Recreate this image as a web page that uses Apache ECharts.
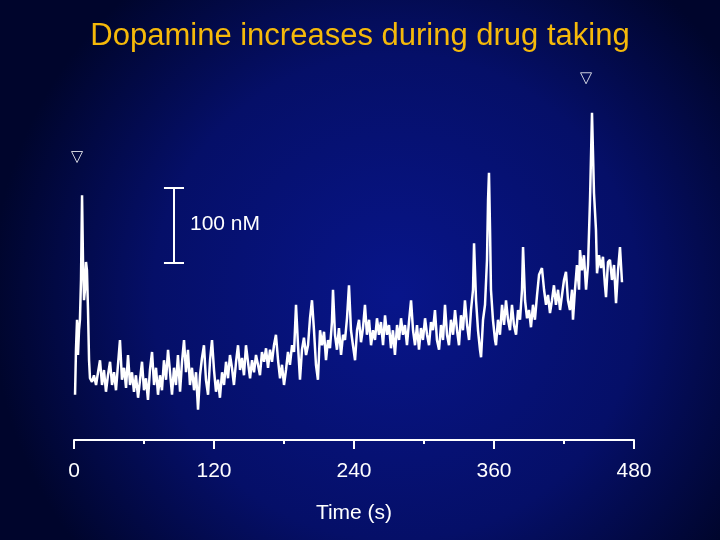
<!DOCTYPE html>
<html>
<head>
<meta charset="utf-8">
<script src="https://cdn.jsdelivr.net/npm/echarts@6/dist/echarts.min.js"></script>
<style>html,body{margin:0;padding:0;background:#000a40}#main{width:720px;height:540px}</style>
</head>
<body>
<div id="main"></div>
<script>
// time (s) and dopamine change (nM)
var times = [0.9,1.7,2.6,3.4,4.3,5.1,6,6.9,7.7,8.6,9.4,10.3,11.1,12,12.9,13.7,15.4,17.1,18.9,20.6,22.3,24,25.7,27.4,29.1,30.9,32.6,34.3,36,37.7,39.4,41.1,42.9,44.6,46.3,48,49.7,51.4,53.1,54.9,56.6,58.3,60,61.7,63.4,65.1,66.9,68.6,70.3,72,73.7,75.4,77.1,78.9,80.6,82.3,84,85.7,87.4,89.1,90.9,92.6,94.3,96,97.7,99.4,101.1,102.9,104.6,106.3,108,109.7,111.4,113.1,114.9,116.6,118.3,120,121.7,123.4,125.1,126.9,128.6,130.3,132,133.7,135.4,137.1,138.9,140.6,142.3,144,145.7,147.4,149.1,150.9,152.6,154.3,156,157.7,159.4,161.1,162.9,164.6,166.3,168,169.7,171.4,173.1,174.9,176.6,178.3,180,181.7,183.4,185.1,186.9,188.6,190.3,192,193.7,195.4,197.1,198.9,200.6,202.3,204,205.7,207.4,209.1,210.9,212.6,214.3,216,217.7,219.4,221.1,222,223.7,225.4,227.1,228.9,230.6,232.3,234,235.7,237.4,239.1,240.9,242.6,244.3,246,247.7,249.4,251.1,252.9,254.6,256.3,258,259.7,261.4,263.1,264.9,266.6,268.3,270,271.7,273.4,275.1,276.9,278.6,280.3,282,283.7,285.4,287.1,288.9,290.6,292.3,294,295.7,297.4,299.1,300.9,302.6,304.3,306,307.7,309.4,311.1,312.9,314.6,316.3,318,319.7,321.4,323.1,324.9,326.6,328.3,330,331.7,333.4,335.1,336.9,338.6,340.3,342,342.9,344.6,346.3,348,348.9,350.6,352.3,354,354.9,355.7,356.6,357.4,359.1,360.9,361.7,363.4,365.1,366.9,368.6,370.3,372,373.7,375.4,377.1,378.9,380.6,382.3,384,384.9,386.6,388.3,390,391.7,393.4,395.1,396.9,398.6,401.1,402.9,404.6,406.3,408,409.7,411.4,413.1,414.9,416.6,418.3,420,421.7,423.4,425.1,426.9,427.7,429.4,431.1,432.9,433.7,435.4,437.1,438.9,440.6,442.3,444,445.7,447.4,448.3,450,451.7,453.4,455.1,456,457.7,459.4,461.1,462.9,464.6,466.3,468,469.7];
var dopamine = [7,67,107,60,93,107,160,273,187,133,147,184,173,120,53,29,24,33,20,37,53,20,40,11,33,51,20,37,13,47,80,27,43,16,60,20,37,11,33,3,27,51,13,29,0,40,64,20,43,7,33,13,53,27,67,37,7,43,20,60,11,51,80,37,67,20,43,13,37,-13,33,56,73,27,7,53,80,40,11,27,3,37,20,51,29,60,43,20,51,73,40,56,33,73,51,29,53,37,60,47,33,64,51,69,43,67,51,73,87,53,29,47,20,40,64,47,73,64,127,73,27,67,83,60,73,109,133,93,47,27,93,73,91,53,80,69,104,147,87,67,96,60,87,80,109,153,93,73,53,93,107,77,96,127,87,107,73,93,80,109,87,104,73,113,87,100,69,93,60,100,80,109,87,100,73,104,133,93,73,100,67,96,80,109,87,73,104,93,120,80,67,100,80,127,87,73,107,87,120,93,73,113,93,133,100,80,120,147,209,133,93,67,57,107,127,187,267,303,227,147,107,80,73,107,87,127,100,133,107,93,127,100,87,120,107,147,204,133,109,120,97,127,107,140,167,176,147,127,140,116,133,153,127,147,120,140,160,171,133,120,147,107,147,180,147,200,173,193,147,180,267,383,276,227,169,193,176,191,153,137,184,187,160,180,129,173,204,157];
var xTicks = [0, 120, 240, 360, 480];
var markers = [[2.6, 324], [438.9, 429]];
var scaleBar = {t: 85.7, low: 183, high: 283};

var trace = times.map(function (t, i) { return [t, dopamine[i]]; });

var myChart = echarts.init(document.getElementById('main'));

var option = {
    backgroundColor: {
        type: 'radial', x: 0.55, y: 0.55, r: 0.75,
        colorStops: [{offset: 0, color: '#08158a'}, {offset: 0.6, color: '#050f68'}, {offset: 1, color: '#00052c'}]
    },
    animation: false,
    title: {
        text: 'Dopamine increases during drug taking',
        left: 'center', top: 16,
        textStyle: {color: '#f5b90a', fontSize: 31, fontWeight: 'normal', fontFamily: 'Liberation Sans'}
    },
    grid: {left: 74, right: 86, top: 40, bottom: 100},
    xAxis: {
        type: 'value', min: 0, max: 480, interval: 120,
        name: 'Time (s)', nameLocation: 'middle', nameGap: 63,
        nameTextStyle: {color: '#fff', fontSize: 21, fontFamily: 'Liberation Sans'},
        axisLine: {onZero: false, lineStyle: {color: '#fff', width: 2}},
        axisTick: {length: 9, lineStyle: {color: '#fff', width: 2}},
        minorTick: {show: true, splitNumber: 2, length: 4, lineStyle: {color: '#fff', width: 2}},
        axisLabel: {color: '#fff', fontSize: 21, margin: 21, fontFamily: 'Liberation Sans',
            formatter: function (v) { return xTicks.indexOf(v) >= 0 ? String(v) : ''; }},
        splitLine: {show: false}
    },
    yAxis: {type: 'value', min: -53.33, max: 480, show: false},
    series: [
        {
            type: 'line', data: trace, showSymbol: false,
            lineStyle: {color: '#fff', width: 2.5},
            markLine: {
                silent: true, symbol: 'none', label: {show: false},
                lineStyle: {color: '#fff', width: 2, type: 'solid'},
                data: [
                    [{coord: [scaleBar.t, scaleBar.low]}, {coord: [scaleBar.t, scaleBar.high]}],
                    [{coord: [scaleBar.t - 8.6, scaleBar.low]}, {coord: [scaleBar.t + 8.6, scaleBar.low]}],
                    [{coord: [scaleBar.t - 8.6, scaleBar.high]}, {coord: [scaleBar.t + 8.6, scaleBar.high]}]
                ]
            }
        },
        {
            type: 'scatter', data: markers, symbol: 'triangle', symbolRotate: 180, symbolSize: 11,
            itemStyle: {color: 'rgba(0,0,0,0)', borderColor: '#fff', borderWidth: 1}
        }
    ],
    graphic: [{
        type: 'text', left: 190, top: 214,
        style: {text: '100 nM', fill: '#fff', fontSize: 21, fontFamily: 'Liberation Sans'}
    }]
};

myChart.setOption(option);
</script>
</body>
</html>
